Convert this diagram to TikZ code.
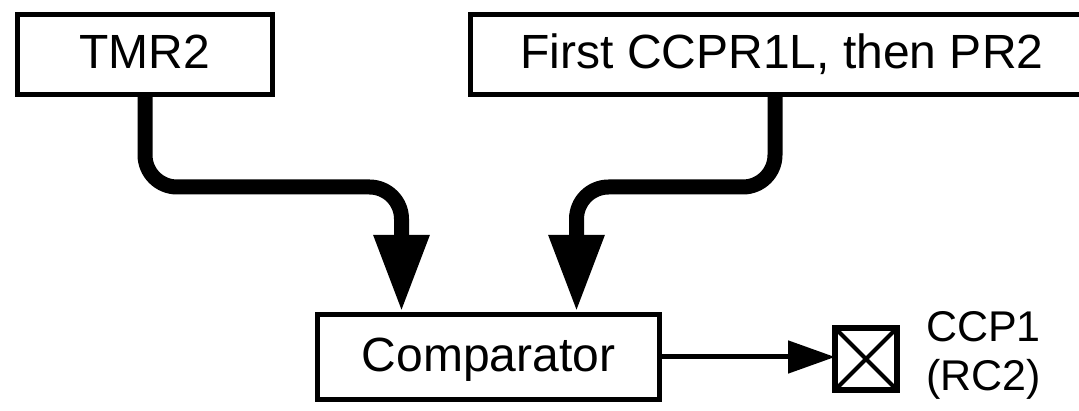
\documentclass[tikz,border=0pt]{standalone}
\usepackage{fontspec}
\setmainfont{Liberation Sans}
\usetikzlibrary{arrows.meta}
\begin{document}
\begin{tikzpicture}[x=1pt,y=-1pt,
  blockbox/.style={draw, line width=5pt, inner sep=0pt, text height=35pt, text depth=6pt,
    font=\fontsize{48}{58}\selectfont},
  busarrow/.style={line width=15pt, rounded corners=32pt, -{Triangle[length=77pt,width=52pt]}},
  wirearrow/.style={line width=5pt, -{Triangle[length=47pt,width=32pt]}},
  pinbox/.style={draw, line width=6pt, minimum size=62pt, inner sep=0pt, outer sep=0pt},
  pinlabel/.style={anchor=north west, inner sep=0pt, align=left, font=\fontsize{43}{49}\selectfont}]
\useasboundingbox (0,0) rectangle (1079,411);
\fill[white] (0,0) rectangle (1079,411);

% register blocks
\node[blockbox, minimum width=255pt, minimum height=80pt] (tmr) at (145,54.5) {TMR2};
\node[blockbox, minimum width=623pt, minimum height=80pt] (reg) at (782,54.5) {First CCPR1L, then PR2};
\node[blockbox, minimum width=342pt, minimum height=85pt] (cmp) at (488.5,357) {Comparator};

% output pin
\node[pinbox] (pin) at (866,359) {};
\draw[line width=4pt] (pin.north west) -- (pin.south east);
\draw[line width=4pt] (pin.north east) -- (pin.south west);
\node[pinlabel] (lbl) at (926,311) {CCP1\\(RC2)};

% data paths
\draw[busarrow] (tmr.south) -- ++(0,90) -| ([xshift=-87pt]cmp.north);
\draw[busarrow] ([xshift=-7pt]reg.south) -- ++(0,90) -| ([xshift=88pt]cmp.north);
\draw[wirearrow] (cmp.east) -- (cmp.east -| pin.west);
\end{tikzpicture}
\end{document}
